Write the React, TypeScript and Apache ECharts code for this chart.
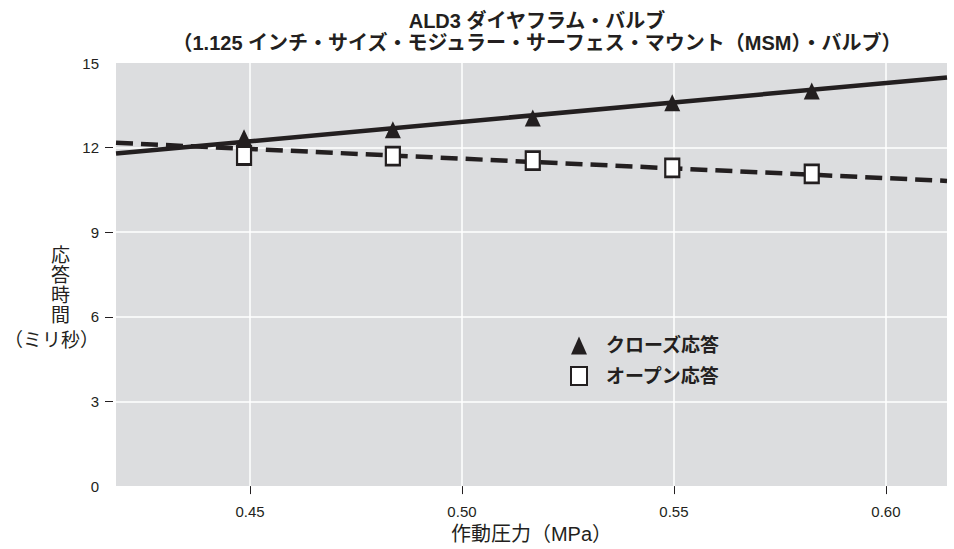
import React, { useEffect, useRef } from "react";
import * as echarts from "echarts";

const titleLines = [
  "ALD3 ダイヤフラム・バルブ",
  "（1.125 インチ・サイズ・モジュラー・サーフェス・マウント（MSM）・バルブ）",
];
const xName = "作動圧力（MPa）";
const yNameStack = "応\n答\n時\n間";
const yNameUnit = "（ミリ秒）";

const pressure = [0.4486, 0.4837, 0.5167, 0.5496, 0.5825];
const closeResponse = [12.35, 12.63, 13.05, 13.59, 14.01];
const openResponse = [11.72, 11.7, 11.54, 11.28, 11.07];

const trendX = [0.4184, 0.6144];
const closeTrend = [11.79, 14.49];
const openTrend = [12.17, 10.82];

const xTicks = [0.45, 0.5, 0.55, 0.6];
const yTicks = [3, 6, 9, 12];
const yLabels = [0, 3, 6, 9, 12, 15];

const seriesNames = ["クローズ応答", "オープン応答"];

const INK = "#231f20";
const FONT = '"Liberation Sans", "Noto Sans CJK JP", sans-serif';

export default function App() {
  const ref = useRef<HTMLDivElement>(null);
  useEffect(() => {
    if (!ref.current) return;
    const chart = echarts.init(ref.current, null, { renderer: "svg" });
    chart.setOption({
      animation: false,
      backgroundColor: "#ffffff",
      textStyle: { fontFamily: FONT },
      title: {
        text: titleLines.join("\n"),
        left: 532,
        textAlign: "center",
        top: 5,
        textStyle: {
          fontFamily: FONT,
          fontSize: 20,
          fontWeight: "bold",
          color: INK,
          lineHeight: 22,
        },
      },
      grid: {
        left: 116,
        right: 7,
        top: 63,
        bottom: 45,
        show: true,
        backgroundColor: "#dcdddf",
        borderWidth: 0,
      },
      legend: {
        data: seriesNames,
        orient: "vertical",
        left: 570,
        top: 336,
        padding: 0,
        itemGap: 11,
        itemWidth: 16,
        itemHeight: 18,
        textStyle: {
          fontFamily: FONT,
          fontSize: 19,
          fontWeight: "bold",
          color: INK,
          padding: [0, 0, 0, 14],
        },
      },
      xAxis: {
        type: "value",
        min: trendX[0],
        max: trendX[1],
        name: xName,
        nameLocation: "middle",
        nameGap: 35,
        nameTextStyle: { fontFamily: FONT, fontSize: 20, color: INK },
        offset: 2,
        axisLine: { show: false },
        axisTick: {
          show: true,
          length: 8,
          customValues: xTicks,
          lineStyle: { color: INK, width: 1 },
        },
        axisLabel: {
          customValues: xTicks,
          formatter: (v: number) => v.toFixed(2),
          fontFamily: FONT,
          fontSize: 15,
          color: INK,
          margin: 16,
        },
        splitLine: {
          show: true,
          lineStyle: { color: "#ffffff", width: 1.5 },
        },
      },
      yAxis: {
        type: "value",
        min: 0,
        max: 15,
        interval: 3,
        offset: 3,
        axisLine: { show: false },
        axisTick: {
          show: true,
          length: 8,
          customValues: yTicks,
          lineStyle: { color: INK, width: 1 },
        },
        axisLabel: {
          customValues: yLabels,
          fontFamily: FONT,
          fontSize: 15,
          color: INK,
          margin: 14,
        },
        splitLine: {
          show: true,
          lineStyle: { color: "#ffffff", width: 1.5 },
        },
      },
      graphic: [
        {
          type: "text",
          left: 51,
          top: 245,
          style: {
            text: yNameStack,
            fontFamily: FONT,
            fontSize: 19,
            lineHeight: 20,
            fill: INK,
            textAlign: "center",
          },
        },
        {
          type: "text",
          left: 4,
          top: 331,
          style: {
            text: yNameUnit,
            fontFamily: FONT,
            fontSize: 19,
            fill: INK,
          },
        },
      ],
      series: [
        {
          type: "line",
          name: "closeTrend",
          data: trendX.map((x, i) => [x, closeTrend[i]]),
          symbol: "none",
          lineStyle: { color: INK, width: 4.5, type: "solid" },
          z: 2,
          silent: true,
        },
        {
          type: "line",
          name: "openTrend",
          data: trendX.map((x, i) => [x, openTrend[i]]),
          symbol: "none",
          lineStyle: { color: INK, width: 4.5, type: [17, 8] },
          z: 2,
          silent: true,
        },
        {
          type: "scatter",
          name: seriesNames[0],
          data: pressure.map((x, i) => [x, closeResponse[i]]),
          symbol: "triangle",
          symbolSize: [16, 17],
          itemStyle: { color: INK, opacity: 1 },
          z: 3,
        },
        {
          type: "scatter",
          name: seriesNames[1],
          data: pressure.map((x, i) => [x, openResponse[i]]),
          symbol: "rect",
          symbolSize: [14, 18],
          itemStyle: {
            color: "#ffffff",
            borderColor: INK,
            borderWidth: 2.5,
            opacity: 1,
          },
          z: 4,
        },
      ],
    });
    return () => chart.dispose();
  }, []);
  return (
    <div
      ref={ref}
      style={{ position: "fixed", left: 0, top: 0, width: 954, height: 549 }}
    />
  );
}
